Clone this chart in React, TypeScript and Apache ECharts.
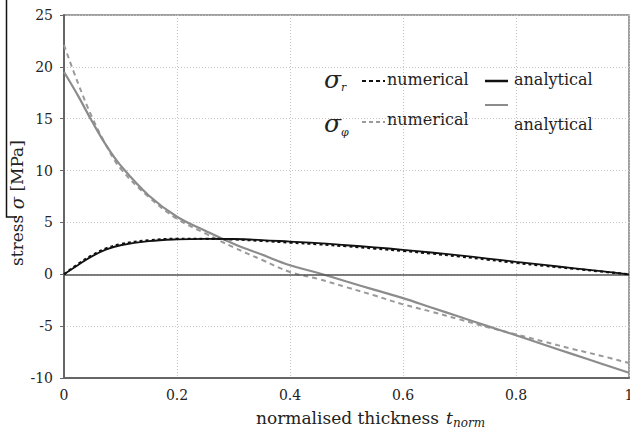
import React, { useEffect, useRef } from "react";
import * as echarts from "echarts";

const tNorm = [0, 0.025, 0.05, 0.075, 0.1, 0.15, 0.2, 0.25, 0.3, 0.35, 0.4, 0.45, 0.5, 0.55, 0.6, 0.65, 0.7, 0.75, 0.8, 0.85, 0.9, 0.95, 1.0];
const sigmaRAnalytical = [0, 0.9, 1.75, 2.4, 2.8, 3.2, 3.37, 3.42, 3.4, 3.3, 3.15, 3.0, 2.8, 2.6, 2.36, 2.1, 1.83, 1.52, 1.2, 0.9, 0.6, 0.3, 0];
const sigmaRNumerical = [0, 1.0, 1.85, 2.5, 2.9, 3.28, 3.42, 3.42, 3.36, 3.22, 3.06, 2.9, 2.7, 2.48, 2.25, 2.0, 1.72, 1.42, 1.1, 0.82, 0.55, 0.27, 0];
const sigmaPhiAnalytical = [19.5, 17.2, 14.7, 12.4, 10.5, 7.6, 5.55, 4.2, 2.95, 1.9, 0.87, 0.13, -0.7, -1.5, -2.3, -3.2, -4.1, -5.0, -5.88, -6.8, -7.7, -8.6, -9.5];
const sigmaPhiNumerical = [22.1, 18.4, 15.1, 12.4, 10.2, 7.45, 5.35, 3.95, 2.6, 1.4, 0.22, -0.45, -1.25, -2.05, -2.9, -3.6, -4.35, -5.1, -5.8, -6.5, -7.2, -7.85, -8.55];
const xTicks = [0, 0.2, 0.4, 0.6, 0.8, 1];
const yTicks = [-10, -5, 0, 5, 10, 15, 20, 25];

const SERIF = "DejaVu Serif";

const pairs = (ys: number[]) => tNorm.map((t, i) => [t, ys[i]]);

export default function App() {
  const ref = useRef<HTMLDivElement>(null);
  useEffect(() => {
    if (!ref.current) return;
    const chart = echarts.init(ref.current, null, { renderer: "svg" });
    const black = "#111111";
    const grayA = "#8c8c8c";
    const grayN = "#9a9a9a";
    const txt = (x: number, y: number, text: string, size: number, extra: any = {}) => ({
      type: "text",
      x,
      y,
      style: {
        text,
        fontFamily: SERIF,
        fontSize: size,
        fontStyle: extra.italic ? "italic" : "normal",
        fill: extra.fill || "#222",
        align: extra.align || "left",
        verticalAlign: "middle",
      },
    });
    const seg = (x1: number, y: number, x2: number, color: string, dash: any, w: number) => ({
      type: "line",
      shape: { x1, y1: y, x2, y2: y },
      style: { stroke: color, lineWidth: w, lineDash: dash },
    });
    chart.setOption({
      animation: false,
      backgroundColor: "#ffffff",
      textStyle: { fontFamily: SERIF },
      grid: {
        left: 64,
        right: 11,
        top: 15,
        bottom: 53,
        show: true,
        borderColor: "#808080",
        borderWidth: 1.5,
      },
      xAxis: {
        type: "value",
        min: 0,
        max: 1,
        interval: 0.2,
        axisLine: { show: true, onZero: false, lineStyle: { color: "#666", width: 2 } },
        axisTick: { show: false },
        axisLabel: {
          margin: 10,
          color: "#222",
          fontFamily: SERIF,
          fontSize: 14,
          formatter: (v: number) => (xTicks.includes(Math.round(v * 10) / 10) ? String(Math.round(v * 10) / 10) : ""),
        },
        splitLine: { show: true, lineStyle: { color: "#c4c4c4", type: [1, 2], width: 1 } },
      },
      yAxis: {
        type: "value",
        min: -10,
        max: 25,
        interval: 5,
        axisLine: { show: true, onZero: false, lineStyle: { color: "#666", width: 2 } },
        axisTick: { show: true, inside: false, length: 4, lineStyle: { color: "#666" } },
        axisLabel: {
          margin: 11,
          color: "#222",
          fontFamily: SERIF,
          fontSize: 14,
          formatter: (v: number) => (yTicks.includes(v) ? String(v) : ""),
        },
        splitLine: { show: true, lineStyle: { color: "#c4c4c4", type: [1, 2], width: 1 } },
      },
      series: [
        {
          name: "sigma_phi numerical",
          type: "line",
          data: pairs(sigmaPhiNumerical),
          smooth: 0.4,
          showSymbol: false,
          lineStyle: { color: grayN, width: 2, type: [5, 4] },
          z: 3,
        },
        {
          name: "sigma_phi analytical",
          type: "line",
          data: pairs(sigmaPhiAnalytical),
          smooth: 0.4,
          showSymbol: false,
          lineStyle: { color: grayA, width: 2.2 },
          z: 4,
          markLine: {
            silent: true,
            symbol: "none",
            label: { show: false },
            lineStyle: { color: "#555", width: 1.5, type: "solid" },
            data: [{ yAxis: 0 }],
          },
        },
        {
          name: "sigma_r numerical",
          type: "line",
          data: pairs(sigmaRNumerical),
          smooth: 0.4,
          showSymbol: false,
          lineStyle: { color: black, width: 2.2, type: [3, 3] },
          z: 5,
        },
        {
          name: "sigma_r analytical",
          type: "line",
          data: pairs(sigmaRAnalytical),
          smooth: 0.4,
          showSymbol: false,
          lineStyle: { color: black, width: 1.8 },
          z: 6,
        },
      ],
      graphic: [
        {
          type: "text",
          x: 17,
          y: 203,
          rotation: Math.PI / 2,
          style: {
            text: "stress {i|σ} [MPa]",
            fontFamily: SERIF,
            fontSize: 17,
            fill: "#222",
            align: "center",
            verticalAlign: "middle",
            rich: { i: { fontStyle: "italic", fontFamily: SERIF, fontSize: 18, fill: "#222" } },
          },
        },
        { type: "polyline", shape: { points: [[6.5, 0], [6.5, 217], [17, 217]] }, style: { stroke: "#111", lineWidth: 1.5, fill: "none" } },
        txt(256, 418, "normalised thickness", 17),
        txt(446, 418, "t", 17, { italic: true }),
        txt(453, 423, "norm", 12, { italic: true }),
        txt(324, 79, "σ", 25, { italic: true }),
        txt(341, 87, "r", 11, { italic: true }),
        seg(362, 81, 385, black, [4, 3], 2),
        txt(387, 79, "numerical", 16),
        seg(485, 81, 508, black, null, 2.5),
        txt(514, 79, "analytical", 16),
        txt(324, 123, "σ", 25, { italic: true }),
        txt(341, 132, "φ", 11, { italic: true }),
        seg(362, 122, 385, grayN, [4, 3], 2),
        txt(387, 119, "numerical", 16),
        seg(485, 105, 508, grayA, null, 2),
        txt(514, 124, "analytical", 16),
      ],
    });
    return () => chart.dispose();
  }, []);
  return (
    <div
      ref={ref}
      style={{ position: "fixed", left: 0, top: 0, width: 640, height: 431, background: "#fff" }}
    />
  );
}
